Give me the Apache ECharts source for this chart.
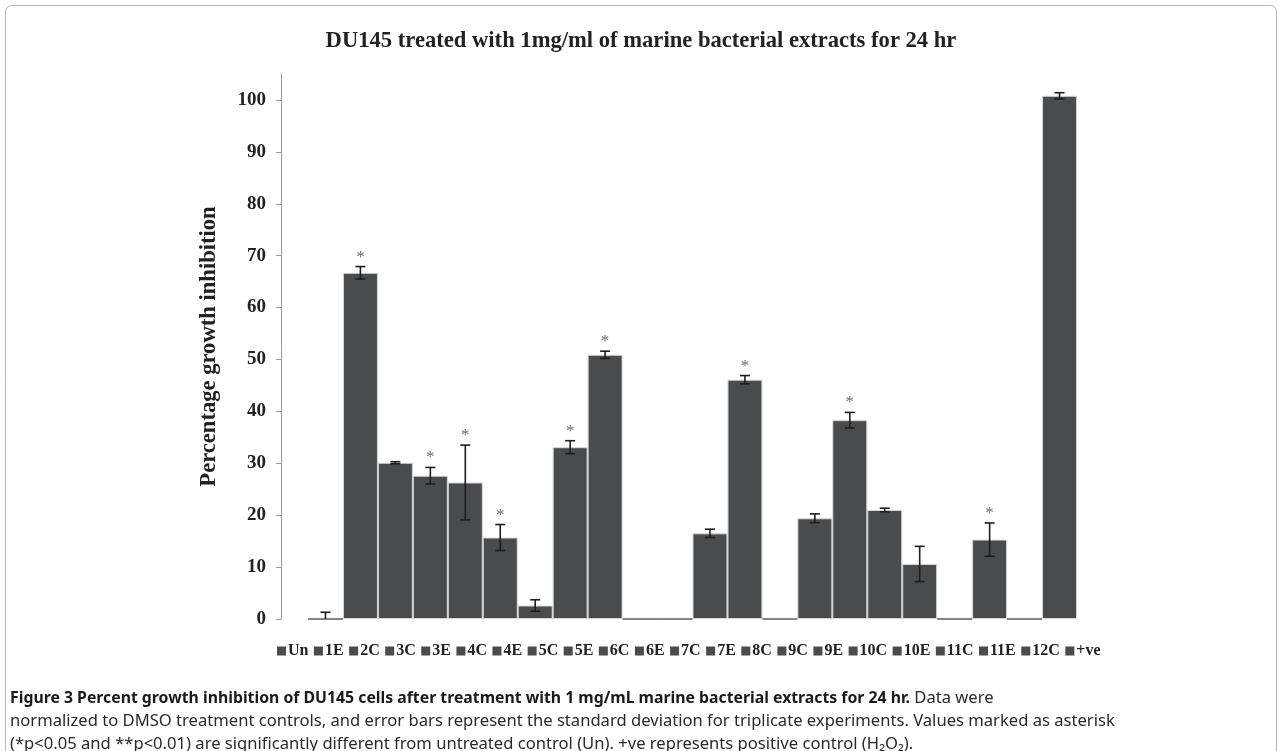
<!DOCTYPE html>
<html>
<head>
<meta charset="utf-8">
<script src="https://cdn.jsdelivr.net/npm/echarts@6/dist/echarts.min.js"></script>
<style>
html,body{margin:0;padding:0;background:#fff;}
#chart{width:1282px;height:751px;}
</style>
</head>
<body>
<div id="chart"></div>
<script>
// ---- data ----
var categories = ['Un','1E','2C','3C','3E','4C','4E','5C','5E','6C','6E','7C','7E','8C','9C','9E','10C','10E','11C','11E','12C','+ve'];
var values = [0, 66.7, 30.1, 27.6, 26.3, 15.7, 2.6, 33.1, 50.9, 0, 0, 16.5, 46.1, 0, 19.4, 38.3, 21.0, 10.6, 0, 15.3, 0, 100.8];
var errors = [1.3, 1.2, 0.2, 1.6, 7.2, 2.5, 1.1, 1.25, 0.7, 0, 0, 0.8, 0.8, 0, 0.85, 1.5, 0.35, 3.4, 0, 3.2, 0, 0.6];
var significant = [0,1,0,1,1,1,0,1,1,0,0,0,1,0,0,1,0,0,0,1,0,0];
var yTicks = [0,10,20,30,40,50,60,70,80,90,100];

var chartTitle = 'DU145 treated with 1mg/ml of marine bacterial extracts for 24 hr';
var yName = 'Percentage growth inhibition';
var captionBold = 'Figure 3 Percent growth inhibition of DU145 cells after treatment with 1 mg/mL marine bacterial extracts for 24 hr.';
var captionLines = [
  ' Data were',
  'normalized to DMSO treatment controls, and error bars represent the standard deviation for triplicate experiments. Values marked as asterisk',
  '(*p<0.05 and **p<0.01) are significantly different from untreated control (Un). +ve represents positive control (H\u2082O\u2082).'
];

var BAR = '#4a4b4d';
var SERIF = '"Liberation Serif","Times New Roman",serif';
var CAPFONT = '"Noto Sans",sans-serif';

var chart = echarts.init(document.getElementById('chart'));

var series = categories.map(function (name, i) {
  var data = categories.map(function (c, j) {
    if (j !== i) return '-';
    if (values[j] === 0) {
      return { value: 0, itemStyle: { borderColor: '#5a5a5a', borderWidth: 1 } };
    }
    return values[j];
  });
  return {
    name: name,
    type: 'bar',
    stack: 'all',
    barCategoryGap: '0%',
    itemStyle: { color: BAR, borderColor: '#d4d4d4', borderWidth: 1 },
    emphasis: { disabled: true },
    data: data
  };
});

var errData = categories.map(function (c, i) {
  return [i, values[i], errors[i], significant[i]];
});

series.push({
  type: 'custom',
  name: 'errors',
  z: 10,
  silent: true,
  data: errData,
  encode: { x: 0, y: 1 },
  renderItem: function (params, api) {
    var i = api.value(0), v = api.value(1), e = api.value(2), s = api.value(3);
    var children = [];
    var style = { stroke: '#1e1e1e', lineWidth: 1.6 };
    var capHalf = 5;
    var top = api.coord([i, v + e]);
    if (e > 0) {
      var lowVal = Math.max(0, v - e);
      var bot = api.coord([i, lowVal]);
      children.push({ type: 'line', shape: { x1: top[0], y1: top[1], x2: bot[0], y2: bot[1] }, style: style });
      children.push({ type: 'line', shape: { x1: top[0] - capHalf, y1: top[1], x2: top[0] + capHalf, y2: top[1] }, style: style });
      if (v - e >= 0) {
        children.push({ type: 'line', shape: { x1: bot[0] - capHalf, y1: bot[1], x2: bot[0] + capHalf, y2: bot[1] }, style: style });
      }
    }
    if (s) {
      children.push({
        type: 'text',
        style: {
          text: '*', x: top[0], y: top[1] - 1,
          align: 'center', verticalAlign: 'bottom',
          font: '17px ' + SERIF, fill: '#6e6e6e'
        }
      });
    }
    return { type: 'group', children: children };
  }
});

var option = {
  backgroundColor: '#fff',
  animation: false,
  title: {
    text: chartTitle,
    left: 'center',
    top: 25,
    textStyle: { fontFamily: SERIF, fontWeight: 'bold', fontSize: 22.6, color: '#222' }
  },
  legend: {
    data: categories,
    left: 272,
    top: 638,
    icon: 'rect',
    itemWidth: 9,
    itemHeight: 9,
    itemGap: 5.5,
    selectedMode: false,
    textStyle: { fontFamily: SERIF, fontWeight: 'bold', fontSize: 16, color: '#222', padding: [0, 0, 0, -3] },
    itemStyle: { color: BAR, borderWidth: 0 }
  },
  grid: { left: 308, right: 205, top: 74, bottom: 132, containLabel: false },
  xAxis: {
    type: 'category',
    data: categories,
    axisLine: { show: false },
    axisTick: { show: false },
    axisLabel: { show: false },
    splitLine: { show: false }
  },
  yAxis: {
    type: 'value',
    min: 0,
    max: 105,
    interval: 10,
    offset: 27,
    name: yName,
    nameLocation: 'middle',
    nameGap: 60,
    nameTextStyle: { fontFamily: SERIF, fontWeight: 'bold', fontSize: 22.6, color: '#222' },
    axisLine: { show: true, lineStyle: { color: '#9a9a9a', width: 1 } },
    axisTick: { show: true, inside: false, length: 5, lineStyle: { color: '#9a9a9a' }, customValues: yTicks },
    axisLabel: { fontFamily: SERIF, fontWeight: 'bold', fontSize: 19, color: '#222', margin: 15, customValues: yTicks },
    splitLine: { show: false }
  },
  graphic: [
    {
      type: 'rect', silent: true,
      shape: { x: 5.5, y: 5.5, width: 1271, height: 800, r: 6 },
      style: { fill: 'none', stroke: '#b5b5b5', lineWidth: 1 }
    },
    {
      type: 'text', left: 10, top: 690, silent: true,
      style: {
        text: '{b|' + captionBold + '}{n|' + captionLines[0] + '}',
        rich: {
          b: { fontFamily: CAPFONT, fontWeight: 'bold', fontSize: 15.8, fill: '#1a1a1a' },
          n: { fontFamily: CAPFONT, fontSize: 16.6, fill: '#2a2a2a' }
        }
      }
    },
    {
      type: 'text', left: 10, top: 713, silent: true,
      style: { text: captionLines[1], font: '16.6px ' + CAPFONT, fill: '#2a2a2a' }
    },
    {
      type: 'text', left: 10, top: 736, silent: true,
      style: { text: captionLines[2], font: '16.6px ' + CAPFONT, fill: '#2a2a2a' }
    }
  ],
  series: series
};

chart.setOption(option);
</script>
</body>
</html>
